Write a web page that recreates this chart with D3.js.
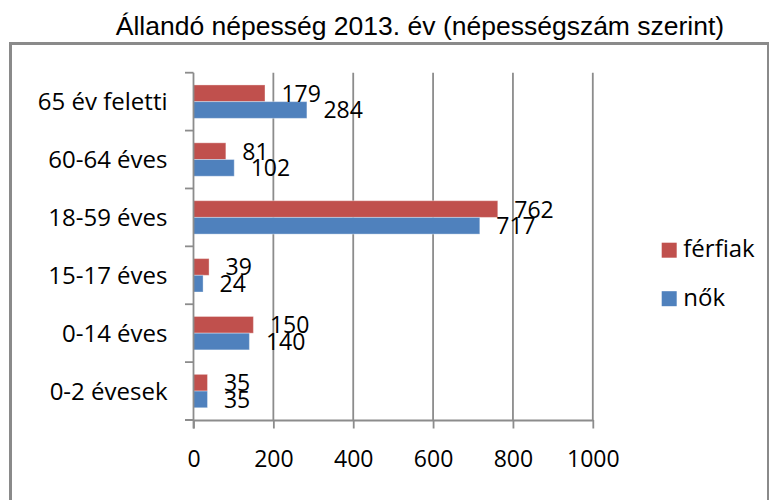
<!DOCTYPE html>
<html>
<head>
<meta charset="utf-8">
<script src="https://cdn.jsdelivr.net/npm/d3@7"></script>
<style>
html,body{margin:0;padding:0;background:#fff;}
svg{display:block;}
</style>
</head>
<body>
<svg id="chart" width="769" height="500"></svg>
<script>
const title = "Állandó népesség 2013. év (népességszám szerint)";
const categories = ["0-2 évesek","0-14 éves","15-17 éves","18-59 éves","60-64 éves","65 év feletti"];
const ferfiak = [35,150,39,762,81,179];
const nok = [35,140,24,717,102,284];
const seriesNames = ["férfiak","nők"];
const xTicks = [0,200,400,600,800,1000];

const colors = {"férfiak":"#C0504D","nők":"#4F81BD"};
const labelFont = "'Open Sans', sans-serif";
const svg = d3.select("#chart");

// outer frame
svg.append("rect").attr("x",10.5).attr("y",43.5).attr("width",758).attr("height",480)
  .attr("fill","none").attr("stroke","#8a8a8a").attr("stroke-width",3);

// title
svg.append("text").attr("x",420).attr("y",35).attr("text-anchor","middle")
  .style("font-family","'Liberation Sans', Arial, sans-serif").style("font-size","26.5px")
  .attr("fill","#000").text(title);

const x = d3.scaleLinear().domain([0,1000]).range([193.5,592.8]);
const y = d3.scaleBand().domain(categories.slice().reverse()).range([72.7,420]);
const inner = d3.scaleBand().domain(seriesNames).range([0,33.4]);
const padTop = (y.bandwidth()-33.4)/2;

const gridColor = "#8c8c8c";
// gridlines
svg.append("g").selectAll("line").data(xTicks.slice(1)).join("line")
  .attr("x1",d=>x(d)).attr("x2",d=>x(d)).attr("y1",72.7).attr("y2",420)
  .attr("stroke",gridColor).attr("stroke-width",1.8);

const rows = categories.map((c,i)=>({cat:c, values:[{s:"férfiak",v:ferfiak[i]},{s:"nők",v:nok[i]}]}));

const g = svg.append("g");
const rowG = g.selectAll("g.row").data(rows).join("g").attr("class","row")
  .attr("transform",d=>`translate(0,${y(d.cat)+padTop})`);
rowG.selectAll("rect").data(d=>d.values).join("rect")
  .attr("x",x(0)).attr("y",d=>inner(d.s)).attr("width",d=>x(d.v)-x(0)).attr("height",inner.bandwidth())
  .attr("fill",d=>colors[d.s]).attr("stroke","rgba(255,255,255,0.35)").attr("stroke-width",1);
rowG.selectAll("text").data(d=>d.values).join("text")
  .attr("x",d=>x(d.v)+16.5).attr("y",d=>inner(d.s)+inner.bandwidth()/2+8.5)
  .style("font-family",labelFont).style("font-size","23px").attr("fill","#000")
  .text(d=>d.v);

// y axis
const yAxis = d3.axisLeft(y).tickSize(0).tickPadding(26);
const yg = svg.append("g").attr("transform",`translate(${x(0)},0)`).call(yAxis);
yg.select(".domain").remove();
yg.selectAll("text").style("font-family",labelFont).style("font-size","24px").attr("fill","#000").attr("dy","0.36em");
// category boundary ticks
const bounds = categories.map(c=>y(c)).concat([y(categories[0])+y.bandwidth()]);
svg.append("g").selectAll("line").data(bounds).join("line")
  .attr("x1",185).attr("x2",x(0)).attr("y1",d=>d).attr("y2",d=>d)
  .attr("stroke",gridColor).attr("stroke-width",1.8);
svg.append("line").attr("x1",x(0)).attr("x2",x(0)).attr("y1",72.7).attr("y2",428.5)
  .attr("stroke",gridColor).attr("stroke-width",1.8);

// x axis
const xAxis = d3.axisBottom(x).tickValues(xTicks).tickFormat(d3.format("d"))
  .tickSize(8.5).tickPadding(22).tickSizeOuter(0);
const xg = svg.append("g").attr("transform","translate(0,420)").call(xAxis);
xg.select(".domain").attr("stroke",gridColor).attr("stroke-width",1.8);
xg.selectAll(".tick line").attr("stroke",gridColor).attr("stroke-width",1.8);
xg.selectAll("text").style("font-family",labelFont).style("font-size","23px").attr("fill","#000");
svg.append("line").attr("x1",185).attr("x2",x(0)).attr("y1",420).attr("y2",420)
  .attr("stroke",gridColor).attr("stroke-width",1.8);

// legend
const leg = svg.append("g").selectAll("g").data(seriesNames).join("g")
  .attr("transform",(d,i)=>`translate(661.7,${242.7+i*48.5})`);
leg.append("rect").attr("width",15).attr("height",15).attr("fill",d=>colors[d]);
leg.append("text").attr("x",21.6).attr("y",14.6)
  .style("font-family",labelFont).style("font-size","24px").attr("fill","#000").text(d=>d);
</script>
</body>
</html>
